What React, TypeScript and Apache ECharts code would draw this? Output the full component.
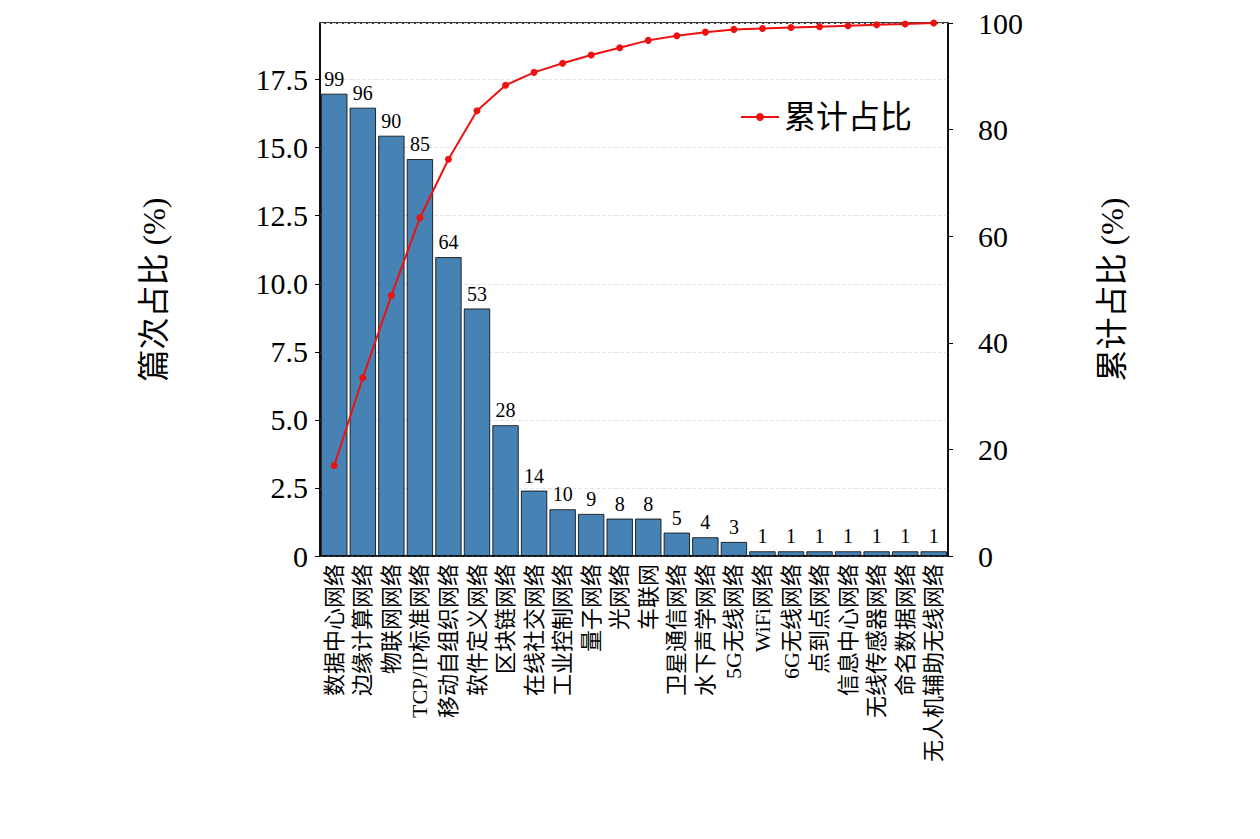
import React, { useEffect, useRef } from 'react';
import * as echarts from 'echarts';

const categories = [
  '数据中心网络', '边缘计算网络', '物联网网络', 'TCP/IP标准网络', '移动自组织网络', '软件定义网络',
  '区块链网络', '在线社交网络', '工业控制网络', '量子网络', '光网络', '车联网', '卫星通信网络',
  '水下声学网络', '5G无线网络', 'WiFi网络', '6G无线网络', '点到点网络', '信息中心网络',
  '无线传感器网络', '命名数据网络', '无人机辅助无线网络',
];
const counts = [99, 96, 90, 85, 64, 53, 28, 14, 10, 9, 8, 8, 5, 4, 3, 1, 1, 1, 1, 1, 1, 1];

const FONT = '"Liberation Serif", "DejaVu Serif", "Noto Sans CJK SC", serif';

const App: React.FC = () => {
  const chartRef = useRef<HTMLDivElement>(null);

  useEffect(() => {
    if (!chartRef.current) return;
    const chart = echarts.init(chartRef.current, undefined, { renderer: 'svg' });

    const total = counts.reduce((a, b) => a + b, 0);
    const share = counts.map(c => (c / total) * 100);
    let acc = 0;
    const cumulative = counts.map(c => {
      acc += c;
      return (acc / total) * 100;
    });

    const option: echarts.EChartsOption = {
      animation: false,
      textStyle: { fontFamily: FONT },
      grid: { left: 312, right: 304, top: 12, bottom: 275, show: true, borderColor: '#000', borderWidth: 1.5 },
      legend: {
        data: ['累计占比'],
        right: 335,
        top: 88,
        itemWidth: 38,
        itemHeight: 10,
        textStyle: { fontSize: 32, fontFamily: FONT, color: '#000' },
      },
      xAxis: {
        type: 'category',
        data: categories,
        axisLine: { lineStyle: { color: '#000', width: 1.5 } },
        axisTick: { show: false },
        axisLabel: { rotate: 90, interval: 0, fontSize: 22, color: '#000', fontFamily: FONT, margin: 8 },
      },
      yAxis: [
        {
          type: 'value',
          min: 0,
          max: 19.58,
          interval: 2.5,
          name: '篇次占比 (%)',
          nameLocation: 'middle',
          nameGap: 150,
          nameTextStyle: { fontSize: 32, color: '#000', fontFamily: FONT },
          axisLine: { show: true, lineStyle: { color: '#000', width: 1.5 } },
          axisTick: { show: true, length: 5, lineStyle: { color: '#000' } },
          axisLabel: {
            fontSize: 30, color: '#000', fontFamily: FONT, showMaxLabel: false, margin: 12,
            formatter: (v: number) => (v === 0 ? '0' : v.toFixed(1)),
          },
          splitLine: { show: true, lineStyle: { color: '#e4e4e4', type: 'dashed' } },
        },
        {
          type: 'value',
          min: 0,
          max: 100,
          interval: 20,
          name: '累计占比 (%)',
          nameLocation: 'middle',
          nameGap: 148,
          nameRotate: 90,
          nameTextStyle: { fontSize: 32, color: '#000', fontFamily: FONT },
          axisLine: { show: true, lineStyle: { color: '#000', width: 1.5 } },
          axisTick: { show: true, length: 5, lineStyle: { color: '#000' } },
          axisLabel: { fontSize: 30, color: '#000', fontFamily: FONT, margin: 30 },
          splitLine: { show: false },
        },
      ],
      series: [
        {
          name: '篇次占比',
          type: 'bar',
          data: share,
          barCategoryGap: '8%',
          itemStyle: { color: '#4682B4', borderColor: '#000', borderWidth: 0.8 },
          label: {
            show: true,
            position: 'top',
            fontSize: 20,
            color: '#000',
            fontFamily: FONT,
            formatter: (p: any) => String(counts[p.dataIndex]),
          },
        },
        {
          name: '累计占比',
          type: 'line',
          yAxisIndex: 1,
          data: cumulative,
          symbol: 'circle',
          symbolSize: 7,
          lineStyle: { color: '#ee1111', width: 2 },
          itemStyle: { color: '#ee1111' },
        },
      ],
    };

    chart.setOption(option);
    return () => chart.dispose();
  }, []);

  return <div ref={chartRef} style={{ width: 1244, height: 823 }} />;
};

export default App;
